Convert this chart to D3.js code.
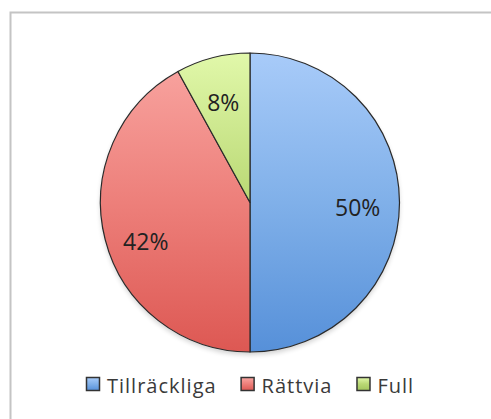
<!DOCTYPE html>
<html>
<head>
<meta charset="utf-8">
<script src="https://cdn.jsdelivr.net/npm/d3@7"></script>
<style>
  html, body { margin: 0; padding: 0; background: #fff; }
  svg { display: block; }
</style>
</head>
<body>
<svg id="chart" width="491" height="419"></svg>
<script>
// Share of answers per category
const categories = ["Tillräckliga", "Rättvia", "Full"];
const shares = [50, 42, 8];
const labels = ["50%", "42%", "8%"];

// Top / middle / bottom shades of the gradient fill for each slice
const topColors = ["#a8cbf9", "#f9a6a2", "#e1f8aa"];
const midColors = ["#80b0e9", "#ed7f7a", "#b9d874"];
const bottomColors = ["#5690d9", "#dd5853", "#a3c65e"];

const cx = 250, cy = 202.5, R = 149.5;
const svg = d3.select("#chart");

// chart frame
svg.append("rect")
  .attr("x", 10.5).attr("y", 12.5)
  .attr("width", 490).attr("height", 430)
  .attr("fill", "#fff")
  .attr("stroke", "#c4c4c4")
  .attr("stroke-width", 2);

const defs = svg.append("defs");
function addStops(grad, i) {
  grad.append("stop").attr("offset", "0%").attr("stop-color", topColors[i]);
  grad.append("stop").attr("offset", "50%").attr("stop-color", midColors[i]);
  grad.append("stop").attr("offset", "100%").attr("stop-color", bottomColors[i]);
}
categories.forEach((c, i) => {
  addStops(defs.append("linearGradient")
    .attr("id", "grad" + i)
    .attr("gradientUnits", "userSpaceOnUse")
    .attr("x1", 0).attr("y1", -R).attr("x2", 0).attr("y2", R), i);
  addStops(defs.append("linearGradient")
    .attr("id", "lgrad" + i)
    .attr("x1", 0).attr("y1", 0).attr("x2", 0).attr("y2", 1), i);
});

const blur = defs.append("filter").attr("id", "soft")
  .attr("x", "-10%").attr("y", "-10%").attr("width", "120%").attr("height", "120%");
blur.append("feGaussianBlur").attr("stdDeviation", 2.5);

const pie = d3.pie().sort(null).value(d => d)(shares);
const arc = d3.arc().innerRadius(0).outerRadius(R);
const labelArc = d3.arc().innerRadius(R * 0.72).outerRadius(R * 0.72);

const g = svg.append("g").attr("transform", `translate(${cx},${cy})`);

// soft shadow under the pie
g.append("circle")
  .attr("cx", 0).attr("cy", 3).attr("r", R)
  .attr("fill", "#000").attr("opacity", 0.18)
  .attr("filter", "url(#soft)");

g.selectAll("path.slice")
  .data(pie)
  .join("path")
  .attr("class", "slice")
  .attr("d", arc)
  .attr("fill", (d, i) => `url(#grad${i})`)
  .attr("stroke", "#2a2a2a")
  .attr("stroke-width", 1.2)
  .attr("stroke-linejoin", "round");

g.selectAll("text.pct")
  .data(pie)
  .join("text")
  .attr("class", "pct")
  .attr("transform", d => {
    const [x, y] = labelArc.centroid(d);
    return `translate(${x},${y + 4 + Math.max(0, y) * 0.3})`;
  })
  .attr("text-anchor", "middle")
  .attr("dominant-baseline", "central")
  .attr("font-family", "'Open Sans', sans-serif")
  .attr("font-size", 23)
  .attr("fill", "#222")
  .text((d, i) => labels[i]);

// legend
const legend = svg.append("g").attr("transform", "translate(86,385)");
let x = 0;
categories.forEach((c, i) => {
  const item = legend.append("g").attr("transform", `translate(${x},0)`);
  item.append("rect")
    .attr("x", 0.5).attr("y", -7.5)
    .attr("width", 13).attr("height", 13)
    .attr("fill", `url(#lgrad${i})`)
    .attr("stroke", "#333").attr("stroke-width", 1.5);
  const t = item.append("text")
    .attr("x", 21).attr("y", 0)
    .attr("dominant-baseline", "central")
    .attr("font-family", "'Open Sans', sans-serif")
    .attr("font-size", 20)
    .attr("letter-spacing", 1)
    .attr("fill", "#3a3a3a")
    .text(c);
  x += 21 + t.node().getComputedTextLength() + 24;
});
</script>
</body>
</html>
